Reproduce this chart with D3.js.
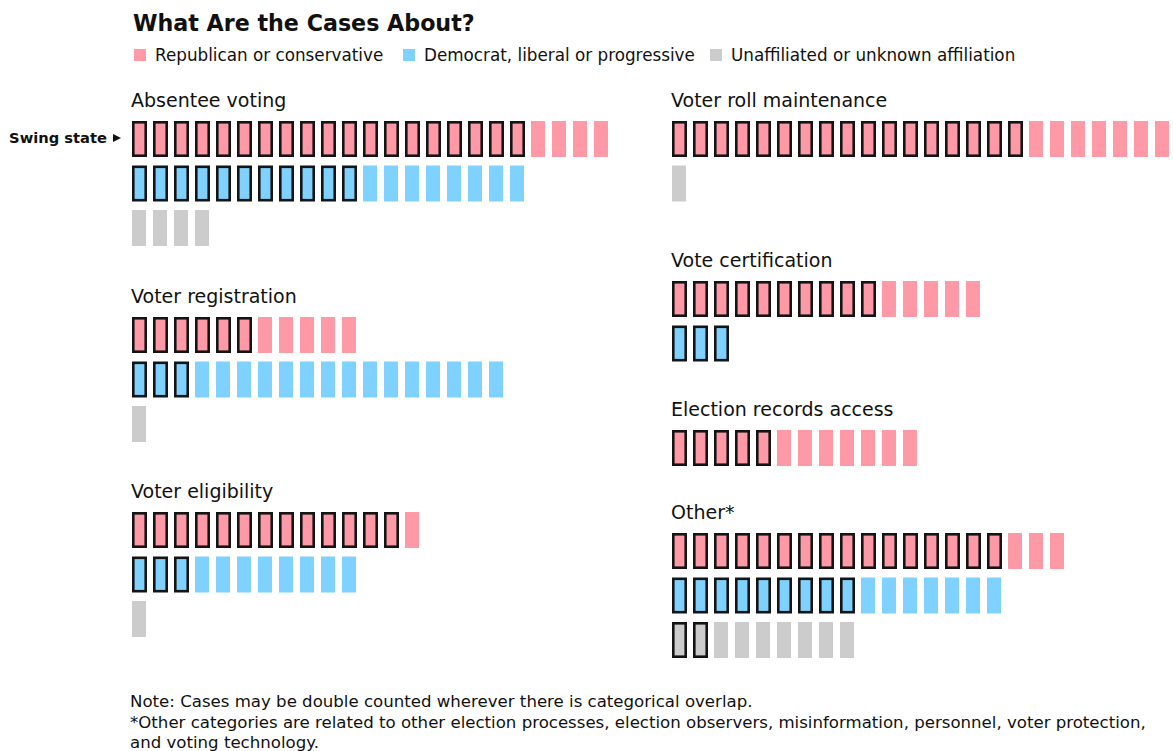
<!DOCTYPE html>
<html>
<head>
<meta charset="utf-8">
<script src="https://cdn.jsdelivr.net/npm/d3@7"></script>
<style>
  body { margin: 0; background: #fff; }
  svg { display: block; }
  text { font-family: "DejaVu Sans", "Liberation Sans", Arial, sans-serif; fill: #111; }
</style>
</head>
<body>
<svg id="chart" width="1173" height="751"></svg>
<script>
// ---- data -------------------------------------------------------------
const categories = [
  "Absentee voting", "Voter registration", "Voter eligibility",
  "Voter roll maintenance", "Vote certification", "Election records access", "Other*"
];
const affiliations = [
  "Republican or conservative",
  "Democrat, liberal or progressive",
  "Unaffiliated or unknown affiliation"
];
// cases filed in swing states, per category: [Republican, Democrat, Unaffiliated]
const swingCases = [
  [19, 11, 0], [6, 3, 0], [13, 3, 0],
  [17, 0, 0], [10, 3, 0], [5, 0, 0], [16, 9, 2]
];
// cases filed elsewhere, per category: [Republican, Democrat, Unaffiliated]
const otherCases = [
  [4, 8, 4], [5, 15, 1], [1, 8, 1],
  [7, 0, 1], [5, 0, 0], [7, 0, 0], [3, 7, 7]
];
const title = "What Are the Cases About?";
const notes = [
  "Note: Cases may be double counted wherever there is categorical overlap.",
  "*Other categories are related to other election processes, election observers, misinformation, personnel, voter protection,",
  "and voting technology."
];

// ---- layout -----------------------------------------------------------
const colors = ["#ff99a6", "#7fd2ff", "#cccccc"];
const columnOf = [0, 0, 0, 1, 1, 1, 1];
const columnX = [132, 672];
const groupTop = [121, 317, 512, 121, 281, 430, 533];
const unitStep = 21, unitW = 14, unitH = 36, rowStep = 44.5, strokeW = 2.6;

const svg = d3.select("#chart");

svg.append("text")
  .attr("x", 133).attr("y", 31)
  .style("font-size", "22.2px").style("font-weight", "bold")
  .text(title);

// legend
const legend = svg.append("g").attr("transform", "translate(0,55)");
const legendTextX = [155, 424, 731];
affiliations.forEach((a, i) => {
  legend.append("rect").attr("x", legendTextX[i] - 21).attr("y", -6)
    .attr("width", 12).attr("height", 12).attr("fill", colors[i]);
  legend.append("text").attr("x", legendTextX[i]).attr("y", 6)
    .style("font-size", "16.8px").text(a);
});

// one group per category
categories.forEach((cat, ci) => {
  const g = svg.append("g")
    .attr("transform", `translate(${columnX[columnOf[ci]]},${groupTop[ci]})`);
  g.append("text").attr("x", -1).attr("y", -14).style("font-size", "19px").text(cat);

  // only affiliations with at least one case get a row
  const rows = [0, 1, 2]
    .map(k => ({ k, swing: swingCases[ci][k], other: otherCases[ci][k] }))
    .filter(r => r.swing + r.other > 0);

  const y = d3.scaleLinear().domain([0, 1]).range([0, rowStep]);
  const x = d3.scaleLinear().domain([0, 1]).range([0, unitStep]);

  rows.forEach((r, ri) => {
    const units = d3.range(r.swing + r.other).map(i => ({ i, swing: i < r.swing }));
    g.append("g").attr("transform", `translate(0,${y(ri)})`)
      .selectAll("rect").data(units).join("rect")
      .attr("x", d => x(d.i) + (d.swing ? strokeW / 2 : 0))
      .attr("y", d => d.swing ? strokeW / 2 : 0)
      .attr("width", d => d.swing ? unitW + 1 - strokeW : unitW)
      .attr("height", d => d.swing ? unitH - strokeW : unitH)
      .attr("fill", colors[r.k])
      .attr("stroke", d => d.swing ? "#141414" : "none")
      .attr("stroke-width", strokeW);
  });
});

// swing state marker
const marker = svg.append("g").attr("transform", "translate(0,138)");
marker.append("text").attr("x", 107).attr("y", 5)
  .attr("text-anchor", "end")
  .style("font-size", "14.7px").style("font-weight", "bold")
  .text("Swing state");
marker.append("path").attr("d", "M113,-4 L121,0 L113,4 Z").attr("fill", "#111");

// notes
notes.forEach((n, i) => {
  svg.append("text").attr("x", 130).attr("y", 707 + i * 20.5)
    .style("font-size", "16.6px").text(n);
});
</script>
</body>
</html>
